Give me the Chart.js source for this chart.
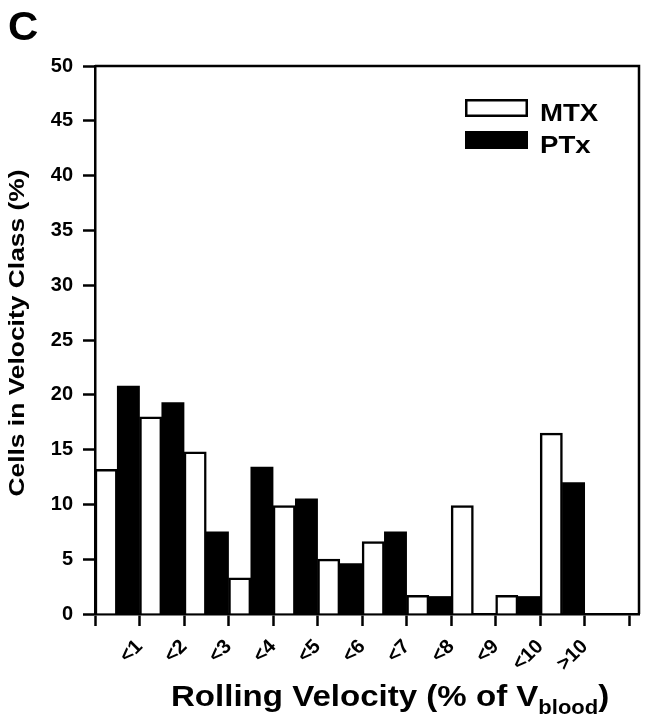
<!DOCTYPE html>
<html>
<head>
<meta charset="utf-8">
<script src="https://cdn.jsdelivr.net/npm/chart.js@4.4.0/dist/chart.umd.min.js"></script>
<style>
  html, body { margin: 0; padding: 0; background: #fff; }
  canvas { display: block; }
</style>
</head>
<body>
<canvas id="velocityChart" width="645" height="720"></canvas>
<script>
// Velocity classes, each label sits at the right edge of its class
const velocityClasses = ['<1', '<2', '<3', '<4', '<5', '<6', '<7', '<8', '<9', '<10', '>10'];
const mtxValues = [13.2, 18.0, 14.8, 3.3, 9.9, 5.0, 6.6, 1.7, 9.9, 1.7, 16.5];
const ptxValues = [20.8, 19.3, 7.5, 13.4, 10.5, 4.6, 7.5, 1.6, 0, 1.6, 12.0];
const yTickValues = [0, 5, 10, 15, 20, 25, 30, 35, 40, 45, 50];

const FONT = '"Liberation Sans", Arial, sans-serif';
const LINE = 2.5;

// class i occupies the interval [i, i+1] on the x scale
const toPoints = vals => vals.map((v, i) => ({ x: i + 0.5, y: v }));

// the original lettering is a bit wider than Arial, so stretch it
function wideText(ctx, text, x, y, sx) {
  ctx.save();
  ctx.translate(x, y);
  ctx.scale(sx, 1);
  ctx.fillText(text, 0, 0);
  ctx.restore();
  return ctx.measureText(text).width * sx;
}

// Frame, titles, legend and panel letter
const decorations = {
  id: 'decorations',
  afterDraw(chart) {
    const { ctx, chartArea: a } = chart;
    ctx.save();
    ctx.strokeStyle = '#000';
    ctx.lineWidth = LINE;
    ctx.beginPath();
    ctx.moveTo(a.left, a.top);
    ctx.lineTo(a.right, a.top);
    ctx.lineTo(a.right, a.bottom);
    ctx.stroke();

    ctx.fillStyle = '#000';
    ctx.textBaseline = 'alphabetic';

    // panel letter
    ctx.font = 'bold 40px ' + FONT;
    wideText(ctx, 'C', 8, 40, 1.05);

    // x title with subscript
    ctx.font = 'bold 29px ' + FONT;
    let x = 171;
    x += wideText(ctx, 'Rolling Velocity (% of V', x, 706, 1.14);
    ctx.font = 'bold 20px ' + FONT;
    x += wideText(ctx, 'blood', x, 714, 1.1);
    ctx.font = 'bold 29px ' + FONT;
    wideText(ctx, ')', x, 706, 1.14);

    // y title
    ctx.save();
    ctx.translate(24, 333);
    ctx.rotate(-Math.PI / 2);
    ctx.font = 'bold 22px ' + FONT;
    const w = ctx.measureText('Cells in Velocity Class (%)').width * 1.2;
    wideText(ctx, 'Cells in Velocity Class (%)', -w / 2, 0, 1.2);
    ctx.restore();

    // legend
    const items = chart.data.datasets;
    ctx.font = 'bold 24px ' + FONT;
    items.forEach((ds, i) => {
      const top = 99 + i * 32;
      ctx.fillStyle = ds.backgroundColor;
      ctx.fillRect(465, top, 63, 18);
      ctx.lineWidth = LINE;
      ctx.strokeStyle = '#000';
      ctx.strokeRect(466.25, top + 1.25, 60.5, 15.5);
      ctx.fillStyle = '#000';
      wideText(ctx, ds.label, 540, top + 22, 1.15);
    });
    ctx.restore();
  }
};

const ctx = document.getElementById('velocityChart').getContext('2d');
new Chart(ctx, {
  type: 'bar',
  data: {
    datasets: [
      {
        label: 'MTX',
        data: toPoints(mtxValues),
        backgroundColor: '#fff',
        borderColor: '#000',
        borderWidth: LINE
      },
      {
        label: 'PTx',
        data: toPoints(ptxValues),
        backgroundColor: '#000',
        borderColor: '#000',
        borderWidth: 0
      }
    ]
  },
  options: {
    responsive: false,
    animation: false,
    devicePixelRatio: 1,
    layout: { padding: { left: 0, right: 6, top: 66, bottom: 0 } },
    datasets: {
      bar: { categoryPercentage: 1, barPercentage: 1, grouped: true }
    },
    plugins: {
      legend: { display: false },
      tooltip: { enabled: false }
    },
    scales: {
      x: {
        type: 'linear',
        offset: false,
        min: 0,
        max: 12.22,
        afterBuildTicks: s => {
          s.ticks = [];
          for (let k = 0; k <= velocityClasses.length + 1; k++) s.ticks.push({ value: k });
        },
        afterFit: s => {
          s.height = 106;
          s.paddingLeft = 0;
          s.paddingRight = 0;
        },
        ticks: {
          autoSkip: false,
          minRotation: 45,
          maxRotation: 45,
          padding: 9,
          color: '#000',
          font: { family: FONT, size: 20, weight: 'bold' },
          callback: v => velocityClasses[v - 1] || ''
        },
        grid: {
          offset: false,
          drawOnChartArea: false,
          tickLength: 12,
          tickWidth: LINE,
          tickColor: '#000'
        },
        border: { color: '#000', width: LINE }
      },
      y: {
        min: 0,
        max: 50,
        afterBuildTicks: s => { s.ticks = yTickValues.map(v => ({ value: v })); },
        afterFit: s => { s.width = 95; },
        ticks: {
          padding: 10,
          color: '#000',
          font: { family: FONT, size: 20, weight: 'bold' }
        },
        grid: {
          drawOnChartArea: false,
          tickLength: 12,
          tickWidth: LINE,
          tickColor: '#000'
        },
        border: { color: '#000', width: LINE }
      }
    }
  },
  plugins: [decorations]
});
</script>
</body>
</html>
